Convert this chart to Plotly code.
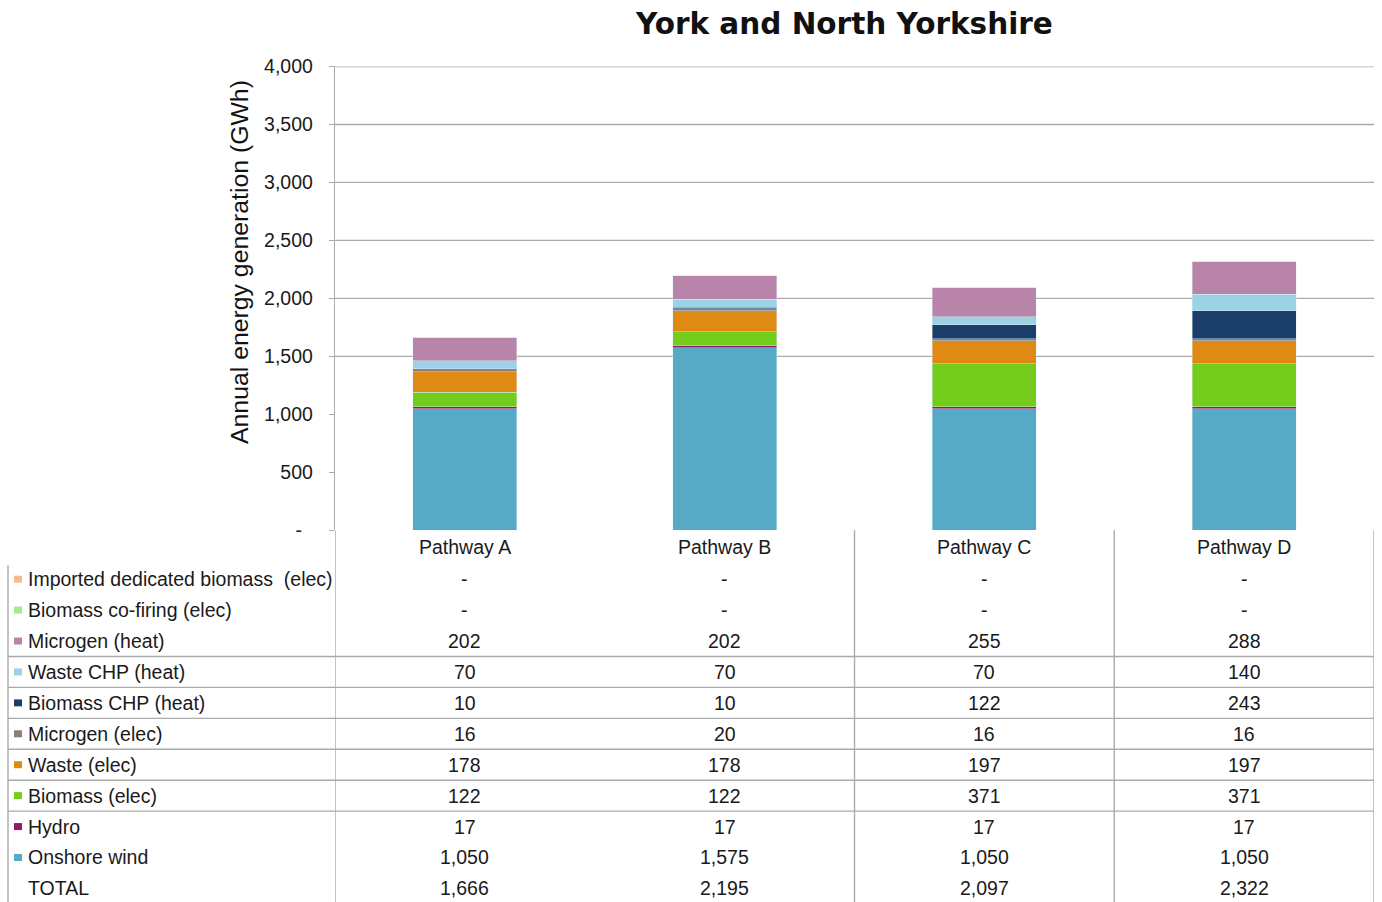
import plotly.graph_objects as go

# ---- data (GWh) ----
pathways = ["Pathway A", "Pathway B", "Pathway C", "Pathway D"]

onshore_wind = [1050, 1575, 1050, 1050]
hydro = [17, 17, 17, 17]
biomass_elec = [122, 122, 371, 371]
waste_elec = [178, 178, 197, 197]
microgen_elec = [16, 20, 16, 16]
biomass_chp_heat = [10, 10, 122, 243]
waste_chp_heat = [70, 70, 70, 140]
microgen_heat = [202, 202, 255, 288]
biomass_cofiring_elec = [0, 0, 0, 0]
imported_biomass_elec = [0, 0, 0, 0]
totals = [1666, 2195, 2097, 2322]

y_tick_values = [0, 500, 1000, 1500, 2000, 2500, 3000, 3500, 4000]
y_tick_labels = ["-\u00a0\u00a0", "500", "1,000", "1,500", "2,000",
                 "2,500", "3,000", "3,500", "4,000"]
grid_levels = [1500, 2000, 2500, 3000, 3500, 4000]

# stacking order, bottom to top
series = [
    ("Onshore wind", onshore_wind),
    ("Hydro", hydro),
    ("Biomass (elec)", biomass_elec),
    ("Waste (elec)", waste_elec),
    ("Microgen (elec)", microgen_elec),
    ("Biomass CHP (heat)", biomass_chp_heat),
    ("Waste CHP (heat)", waste_chp_heat),
    ("Microgen (heat)", microgen_heat),
    ("Biomass co-firing (elec)", biomass_cofiring_elec),
    ("Imported dedicated biomass  (elec)", imported_biomass_elec),
]
colors = ["#57AAC6", "#8F1B6F", "#74CC1D", "#DF8A15", "#8A7E76",
          "#1B3F6A", "#9BD2E6", "#B984A9", "#A9E88F", "#F9BB8C"]

W, H = 1382, 902
FONT = "Liberation Sans, Arial, sans-serif"
TXT = "#1a1a1a"
GRID = "#ABABAB"
FS = 19.5

# page-pixel helpers (vertical placement calibrated to the rendered page)
Y_OFF, Y_SPAN = 9.4, 882.2


def px(x):
    return x / W


def py(y):
    return 1 - (y - Y_OFF) / Y_SPAN


fig = go.Figure()
for (name, vals), col in zip(series, colors):
    fig.add_trace(go.Bar(
        x=pathways, y=vals, name=name, width=0.4,
        marker=dict(color=col, line=dict(color="rgba(225,238,246,0.85)", width=0.5)),
        showlegend=False,
    ))

shapes = []
# horizontal gridlines (only the upper levels are ruled)
for g in grid_levels:
    shapes.append(dict(type="line", xref="paper", yref="y",
                       x0=px(335), x1=px(1374), y0=g, y1=g,
                       line=dict(color=GRID, width=1.4), layer="below"))

annotations = []
# data table beneath the plot
header_y = 547
row_top = 579
row_step = 31
table_rows = list(reversed(series)) + [("TOTAL", totals)]
table_colors = list(reversed(colors)) + [None]

for i, ((name, vals), col) in enumerate(zip(table_rows, table_colors)):
    yc = row_top + i * row_step
    if col is not None:
        shapes.append(dict(type="rect", xref="paper", yref="paper",
                           x0=px(14), x1=px(22), y0=py(yc - 3.5), y1=py(yc + 3.5),
                           fillcolor=col, line=dict(width=0)))
    annotations.append(dict(xref="paper", yref="paper", x=px(26), y=py(yc),
                            text=name, showarrow=False, xanchor="left", yanchor="middle",
                            font=dict(family=FONT, size=FS, color=TXT)))
    for p, v in zip(pathways, vals):
        annotations.append(dict(xref="x", yref="paper", x=p, y=py(yc),
                                text="-" if v == 0 else f"{v:,}", showarrow=False,
                                xanchor="center", yanchor="middle",
                                font=dict(family=FONT, size=FS, color=TXT)))

for p in pathways:
    annotations.append(dict(xref="x", yref="paper", x=p, y=py(header_y),
                            text=p, showarrow=False, xanchor="center", yanchor="middle",
                            font=dict(family=FONT, size=FS, color=TXT)))

# table rules
for i in range(3, 9):
    yl = row_top + (i - 0.5) * row_step
    shapes.append(dict(type="line", xref="paper", yref="paper",
                       x0=px(8), x1=px(1374), y0=py(yl), y1=py(yl),
                       line=dict(color=GRID, width=1.4)))
for xb in [-0.5, 1.5, 2.5, 3.5]:
    shapes.append(dict(type="line", xref="x", yref="paper",
                       x0=xb, x1=xb, y0=py(530), y1=py(905),
                       line=dict(color=GRID, width=1.4)))
shapes.append(dict(type="line", xref="paper", yref="paper",
                   x0=px(8), x1=px(8), y0=py(565), y1=py(905),
                   line=dict(color=GRID, width=1.4)))

# titles
annotations.append(dict(xref="paper", yref="paper", x=px(844), y=py(22),
                        text="<b>York and North Yorkshire</b>", showarrow=False,
                        xanchor="center", yanchor="middle",
                        font=dict(family="DejaVu Sans, sans-serif", size=29.5, color="#111")))
annotations.append(dict(xref="paper", yref="paper", x=px(240), y=py(261),
                        text="Annual energy generation (GWh)", showarrow=False,
                        textangle=-90, xanchor="center", yanchor="middle",
                        font=dict(family=FONT, size=24.8, color="#111")))

fig.update_layout(
    width=W, height=H,
    margin=dict(l=0, r=0, t=0, b=0),
    paper_bgcolor="white", plot_bgcolor="white",
    barmode="stack",
    xaxis=dict(domain=[px(335), px(1374)], range=[-0.5, 3.5],
               showticklabels=False, ticks="", showgrid=False,
               zeroline=False, showline=False, fixedrange=True),
    yaxis=dict(domain=[py(530), py(65)], range=[0, 4000],
               tickvals=y_tick_values, ticktext=y_tick_labels,
               ticks="outside", ticklen=5, tickcolor=GRID,
               ticklabelstandoff=12,
               tickfont=dict(family=FONT, size=FS, color=TXT),
               showgrid=False, zeroline=False,
               showline=True, linecolor=GRID, linewidth=1.4),
    shapes=shapes,
    annotations=annotations,
)

fig.write_html("out.html")
